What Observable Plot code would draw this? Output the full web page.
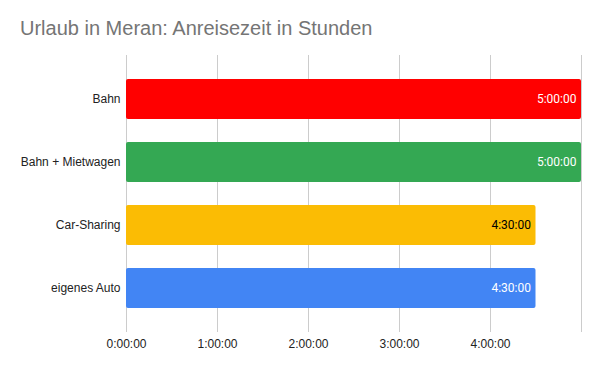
<!DOCTYPE html>
<html>
<head>
<meta charset="utf-8">
<script src="https://cdn.jsdelivr.net/npm/d3@7"></script>
<script src="https://cdn.jsdelivr.net/npm/@observablehq/plot@0.6"></script>
<style>
  html, body { margin: 0; padding: 0; background: #fff; }
  #wrap { position: relative; width: 600px; height: 371px; }
  #title { position: absolute; left: 20px; top: 17px; font-family: "Liberation Sans", Arial, sans-serif; font-size: 20px; color: #757575; white-space: nowrap; }
  #chart { position: absolute; left: 0; top: 0; }
</style>
</head>
<body>
<div id="wrap">
  <div id="chart"></div>
  <div id="title">Urlaub in Meran: Anreisezeit in Stunden</div>
</div>
<script>
const categories = ["Bahn", "Bahn + Mietwagen", "Car-Sharing", "eigenes Auto"];
const hours = [5, 5, 4.5, 4.5];
const colors = ["#ff0000", "#34a853", "#fbbc04", "#4285f4"];
const labelColors = ["#ffffff", "#ffffff", "#000000", "#ffffff"];
const gridTicks = [0, 1, 2, 3, 4, 5];
const tickLabels = [0, 1, 2, 3, 4];

const fmt = h => {
  const s = Math.round(h * 3600);
  const hh = Math.floor(s / 3600), mm = Math.floor((s % 3600) / 60), ss = s % 60;
  return `${hh}:${String(mm).padStart(2, "0")}:${String(ss).padStart(2, "0")}`;
};

const data = categories.map((c, i) => ({cat: c, v: hours[i], color: colors[i], lc: labelColors[i]}));

const chart = Plot.plot({
  width: 600,
  height: 371,
  marginLeft: 126,
  marginRight: 19,
  marginTop: 55,
  marginBottom: 39,
  style: {fontFamily: "'Liberation Sans', Arial, sans-serif", fontSize: "12px", color: "#222"},
  x: {domain: [0, 5], axis: null, label: null},
  y: {domain: categories, paddingInner: 0.36, paddingOuter: 0.18, insetTop: 11.5, insetBottom: 11.5, axis: null, label: null},
  marks: [
    Plot.ruleX(gridTicks, {stroke: "#cccccc", strokeWidth: 1}),
    Plot.barX(data, {y: "cat", x: "v", fill: d => d.color, rx: 2}),
    Plot.text(data, {
      y: "cat", x: "v", text: d => fmt(d.v), fill: d => d.lc,
      textAnchor: "end", dx: -5, fontFamily: "Roboto, sans-serif", fontSize: 12
    }),
    Plot.axisX(tickLabels, {tickSize: 0, tickPadding: 7, tickFormat: fmt, fill: "#222", fontSize: 12, label: null}),
    Plot.axisY(categories, {tickSize: 0, tickPadding: 6, fill: "#222", fontSize: 12, label: null})
  ]
});
document.getElementById("chart").appendChild(chart);
</script>
</body>
</html>
